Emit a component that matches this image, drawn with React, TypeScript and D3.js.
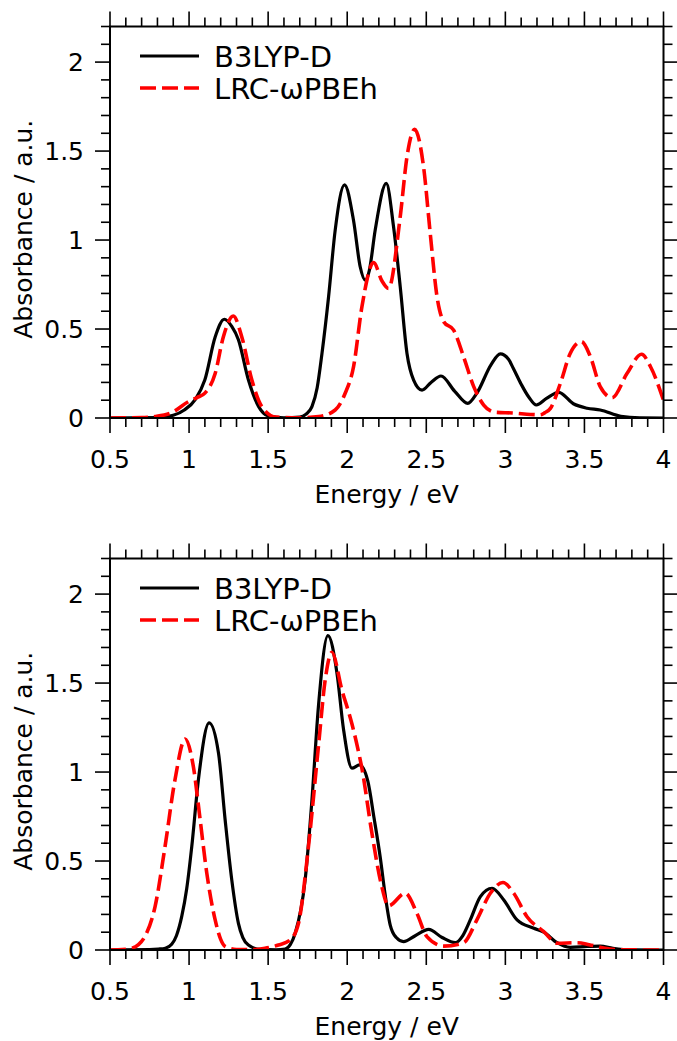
import React from 'react';
import * as d3 from 'd3';

const xTickValues = [0.5, 1, 1.5, 2, 2.5, 3, 3.5, 4];
const xTickLabels = ['0.5', '1', '1.5', '2', '2.5', '3', '3.5', '4'];
const yTickValues = [0, 0.5, 1, 1.5, 2];
const yTickLabels = ['0', '0.5', '1', '1.5', '2'];
const seriesNames = ['B3LYP-D', 'LRC-ωPBEh'];
const xTitle = 'Energy / eV';
const yTitle = 'Absorbance / a.u.';

// Panel 1 (top)
const topB3lyp: [number, number][] = [
  [0.5, 0], [0.8, 0.002], [0.9, 0.015], [0.97, 0.045], [1.04, 0.105], [1.1, 0.215], [1.165, 0.455],
  [1.223, 0.555], [1.27, 0.515], [1.312, 0.44], [1.375, 0.215], [1.44, 0.064], [1.5, 0.012], [1.6, 0.001],
  [1.7, 0.005], [1.74, 0.022], [1.777, 0.064], [1.81, 0.17], [1.84, 0.36], [1.882, 0.68], [1.924, 1.056],
  [1.983, 1.31], [2.04, 1.11], [2.082, 0.85], [2.114, 0.775], [2.14, 0.83], [2.177, 1.056], [2.247, 1.318],
  [2.293, 1.075], [2.335, 0.74], [2.378, 0.363], [2.42, 0.213], [2.473, 0.157], [2.53, 0.2], [2.593, 0.236],
  [2.68, 0.15], [2.762, 0.082], [2.82, 0.14], [2.91, 0.3], [2.968, 0.36], [3.02, 0.33], [3.05, 0.28],
  [3.1, 0.19], [3.15, 0.115], [3.196, 0.073], [3.26, 0.11], [3.338, 0.144], [3.43, 0.08], [3.517, 0.055],
  [3.6, 0.045], [3.73, 0.01], [3.85, 0.001], [4.0, 0],
];
const topLrc: [number, number][] = [
  [0.5, 0], [0.7, 0.002], [0.785, 0.008], [0.89, 0.03], [0.996, 0.092], [1.05, 0.115], [1.1, 0.14],
  [1.165, 0.25], [1.217, 0.457], [1.28, 0.573], [1.333, 0.457], [1.397, 0.213], [1.46, 0.064], [1.55, 0.005],
  [1.7, 0.001], [1.82, 0.008], [1.924, 0.045], [1.987, 0.139], [2.04, 0.288], [2.093, 0.625], [2.167, 0.873],
  [2.22, 0.77], [2.261, 0.728], [2.335, 1.13], [2.378, 1.468], [2.426, 1.622], [2.483, 1.41], [2.525, 1.037],
  [2.568, 0.681], [2.61, 0.541], [2.673, 0.494], [2.736, 0.344], [2.8, 0.176], [2.863, 0.073], [2.937, 0.032],
  [3.053, 0.028], [3.158, 0.02], [3.22, 0.018], [3.25, 0.03], [3.285, 0.054], [3.348, 0.195], [3.41, 0.363],
  [3.481, 0.429], [3.538, 0.344], [3.6, 0.176], [3.675, 0.114], [3.77, 0.251], [3.861, 0.358], [3.918, 0.288],
  [4.0, 0.1],
];

// Panel 2 (bottom)
const botB3lyp: [number, number][] = [
  [0.5, 0], [0.75, 0.002], [0.806, 0.005], [0.85, 0.01], [0.89, 0.032], [0.92, 0.08], [0.954, 0.19],
  [0.985, 0.344], [1.017, 0.581], [1.059, 0.957], [1.127, 1.276], [1.186, 1.107], [1.228, 0.732], [1.27, 0.394],
  [1.312, 0.15], [1.34, 0.07], [1.375, 0.028], [1.45, 0.003], [1.55, 0.001], [1.608, 0.005], [1.64, 0.03],
  [1.671, 0.094], [1.734, 0.394], [1.777, 0.844], [1.818, 1.369], [1.878, 1.767], [1.935, 1.557], [1.977, 1.238],
  [2.03, 1.022], [2.078, 1.04], [2.13, 0.95], [2.17, 0.74], [2.209, 0.52], [2.24, 0.31], [2.272, 0.14],
  [2.31, 0.07], [2.356, 0.047], [2.43, 0.08], [2.515, 0.116], [2.6, 0.07], [2.684, 0.041], [2.73, 0.08],
  [2.778, 0.169], [2.842, 0.3], [2.916, 0.347], [2.99, 0.281], [3.074, 0.169], [3.18, 0.122], [3.243, 0.1],
  [3.327, 0.041], [3.41, 0.015], [3.517, 0.02], [3.6, 0.022], [3.68, 0.01], [3.8, 0.001], [4.0, 0],
];
const botLrc: [number, number][] = [
  [0.5, 0], [0.55, 0.001], [0.637, 0.01], [0.68, 0.03], [0.72, 0.075], [0.785, 0.244], [0.848, 0.581],
  [0.911, 0.957], [0.975, 1.186], [1.027, 1.031], [1.07, 0.732], [1.112, 0.432], [1.165, 0.169], [1.2, 0.06],
  [1.228, 0.02], [1.3, 0.003], [1.4, 0.002], [1.48, 0.01], [1.565, 0.028], [1.639, 0.056], [1.692, 0.15],
  [1.755, 0.581], [1.818, 1.144], [1.861, 1.519], [1.903, 1.673], [1.966, 1.463], [2.03, 1.27], [2.065, 1.14],
  [2.093, 1.02], [2.156, 0.657], [2.215, 0.37], [2.261, 0.248], [2.367, 0.319], [2.441, 0.206], [2.504, 0.075],
  [2.61, 0.022], [2.736, 0.041], [2.82, 0.169], [2.905, 0.319], [2.985, 0.379], [3.053, 0.319], [3.137, 0.187],
  [3.243, 0.103], [3.327, 0.038], [3.453, 0.041], [3.53, 0.03], [3.63, 0.01], [3.75, 0.001], [4.0, 0],
];

const W = 677;
const H = 1041;
const LEFT = 110;
const RIGHT = 663.5;
const FONT = '"DejaVu Sans", sans-serif';
const colors = ['#000000', '#ff0000'];

const panels = [
  { id: 'p1', top: 26.5, bottom: 418, series: [topB3lyp, topLrc] },
  { id: 'p2', top: 558.5, bottom: 950, series: [botB3lyp, botLrc] },
];

function Panel({ id, top, bottom, series }: { id: string; top: number; bottom: number; series: [number, number][][] }) {
  const x = d3.scaleLinear().domain([0.5, 4]).range([LEFT, RIGHT]);
  const y = d3.scaleLinear().domain([0, 2.2]).range([bottom, top]);
  const line = d3
    .line<[number, number]>()
    .x((d) => x(d[0]))
    .y((d) => y(d[1]))
    .curve(d3.curveMonotoneX);
  const xMinor = d3.range(5, 41).map((i) => i / 10).filter((v) => !xTickValues.some((m) => Math.abs(m - v) < 1e-6));
  const yMinor = d3.range(0, 23).map((i) => i / 10).filter((v) => !yTickValues.some((m) => Math.abs(m - v) < 1e-6));
  const MAJ = 15;
  const MIN = 9;
  const tickStroke = 1.6;
  return (
    <g>
      <defs>
        <clipPath id={`clip-${id}`}>
          <rect x={LEFT} y={top} width={RIGHT - LEFT} height={bottom - top} />
        </clipPath>
      </defs>
      <g stroke="#000" strokeWidth={tickStroke}>
        {xTickValues.map((v) => (
          <g key={`xM${v}`}>
            <line x1={x(v)} x2={x(v)} y1={bottom} y2={bottom + MAJ} />
            <line x1={x(v)} x2={x(v)} y1={top} y2={top - MAJ} />
          </g>
        ))}
        {xMinor.map((v) => (
          <g key={`xm${v}`}>
            <line x1={x(v)} x2={x(v)} y1={bottom} y2={bottom + MIN} />
            <line x1={x(v)} x2={x(v)} y1={top} y2={top - MIN} />
          </g>
        ))}
        {yTickValues.map((v) => (
          <g key={`yM${v}`}>
            <line x1={LEFT} x2={LEFT - MAJ} y1={y(v)} y2={y(v)} />
            <line x1={RIGHT} x2={RIGHT + MAJ} y1={y(v)} y2={y(v)} />
          </g>
        ))}
        {yMinor.map((v) => (
          <g key={`ym${v}`}>
            <line x1={LEFT} x2={LEFT - MIN} y1={y(v)} y2={y(v)} />
            <line x1={RIGHT} x2={RIGHT + MIN} y1={y(v)} y2={y(v)} />
          </g>
        ))}
      </g>
      <g clipPath={`url(#clip-${id})`} fill="none">
        <path d={line(series[0]) || ''} stroke={colors[0]} strokeWidth={3.2} strokeLinejoin="round" />
        <path d={line(series[1]) || ''} stroke={colors[1]} strokeWidth={3.6} strokeDasharray="16,6" />
      </g>
      <rect x={LEFT} y={top} width={RIGHT - LEFT} height={bottom - top} fill="none" stroke="#000" strokeWidth={2} />
      <g fontFamily={FONT} fontSize={25} fill="#000">
        {xTickValues.map((v, i) => (
          <text key={`xl${v}`} x={x(v)} y={bottom + 50} textAnchor="middle">
            {xTickLabels[i]}
          </text>
        ))}
        {yTickValues.map((v, i) => (
          <text key={`yl${v}`} x={LEFT - 26} y={y(v)} dy="0.36em" textAnchor="end">
            {yTickLabels[i]}
          </text>
        ))}
      </g>
      <text x={(LEFT + RIGHT) / 2} y={bottom + 85} textAnchor="middle" fontFamily={FONT} fontSize={25}>
        {xTitle}
      </text>
      <text
        transform={`translate(32,${(top + bottom) / 2 + 7}) rotate(-90)`}
        textAnchor="middle"
        fontFamily={FONT}
        fontSize={25}
      >
        {yTitle}
      </text>
      <g>
        <line x1={140} x2={199} y1={top + 29.5} y2={top + 29.5} stroke={colors[0]} strokeWidth={3.2} />
        <line x1={140} x2={199} y1={top + 61.5} y2={top + 61.5} stroke={colors[1]} strokeWidth={3.6} strokeDasharray="16,6" />
        <text x={214} y={top + 40.5} fontFamily={FONT} fontSize={29}>
          {seriesNames[0]}
        </text>
        <text x={214} y={top + 72.5} fontFamily={FONT} fontSize={29}>
          {seriesNames[1]}
        </text>
      </g>
    </g>
  );
}

export default function App() {
  return (
    <svg
      width={W}
      height={H}
      viewBox={`0 0 ${W} ${H}`}
      style={{ position: 'absolute', left: 0, top: 0, background: '#fff' }}
    >
      <rect x={0} y={0} width={W} height={H} fill="#fff" />
      {panels.map((p) => (
        <Panel key={p.id} id={p.id} top={p.top} bottom={p.bottom} series={p.series} />
      ))}
    </svg>
  );
}
